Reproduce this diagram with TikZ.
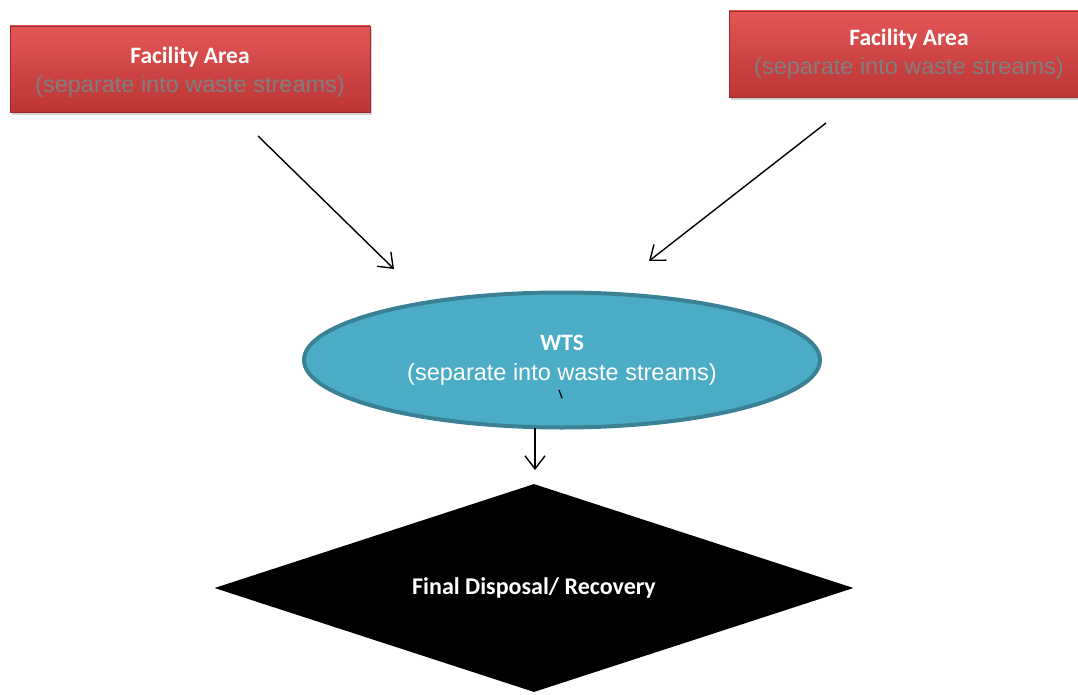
\documentclass[tikz,border=0pt]{standalone}
\usepackage{fontspec}
\setmainfont{Liberation Sans}
\newfontfamily\carlito{Carlito}
\usetikzlibrary{shapes.geometric,arrows.meta,shadows}
\definecolor{boxtop}{HTML}{E35656}
\definecolor{boxbot}{HTML}{BC3535}
\definecolor{boxline}{HTML}{A02A2A}
\definecolor{subgray}{HTML}{7F7F7F}
\definecolor{wtsfill}{HTML}{4BACC6}
\definecolor{wtsline}{HTML}{3A8196}
\tikzset{
  facility/.style={rectangle, minimum width=360pt, minimum height=86pt, inner sep=0pt,
    top color=boxtop, bottom color=boxbot, draw=boxline, line width=0.8pt,
    drop shadow={shadow xshift=2pt, shadow yshift=-3pt, opacity=0.35},
    align=center, text=white, font=\fontsize{23.5}{29}\selectfont},
  wts/.style={ellipse, minimum width=516pt, minimum height=135pt, inner sep=0pt,
    fill=wtsfill, draw=wtsline, line width=4pt, align=center, text=white,
    font=\fontsize{23.5}{30}\selectfont},
  final/.style={diamond, aspect=3, minimum width=639pt, minimum height=208pt, inner sep=0pt,
    fill=black, text=white, font=\carlito\bfseries\fontsize{24}{28}\selectfont},
  flow/.style={line width=1.4pt, -{Straight Barb[length=13pt,width=20pt,line width=1.4pt]}},
}
\newcommand{\facilitytext}[1]{{\carlito\bfseries\rule{0pt}{#1}Facility Area}\\{\color{subgray}(separate into waste streams)}}
\begin{document}
\begin{tikzpicture}[x=1pt,y=-1pt]
\useasboundingbox (0,0) rectangle (1078,695);
\begin{scope}
\clip (0,0) rectangle (1078,695);
\node[facility] (fa1) at (190,69) {\facilitytext{23pt}};
\node[facility] (fa2) at (909,54) {\facilitytext{16pt}};
\node[wts] (wts) at (562,360) {{\carlito\bfseries WTS}\\(separate into waste streams)};
\node[final] (fin) at (534,588) {Final Disposal/ Recovery};
\end{scope}
\coordinate (a1s) at (258,136);
\coordinate (a1e) at (394,269);
\coordinate (a2s) at (826,123);
\coordinate (a2e) at (649,261);
\coordinate (a3s) at (535,428);
\coordinate (a3e) at (535,470);
\coordinate (ticks) at (559,390);
\coordinate (ticke) at (562,398);
\draw[flow] (a1s) -- (a1e);
\draw[flow] (a2s) -- (a2e);
\draw[flow] (a3s) -- (a3e);
\draw[line width=1.2pt, line cap=round] (ticks) -- (ticke);
\end{tikzpicture}
\end{document}
